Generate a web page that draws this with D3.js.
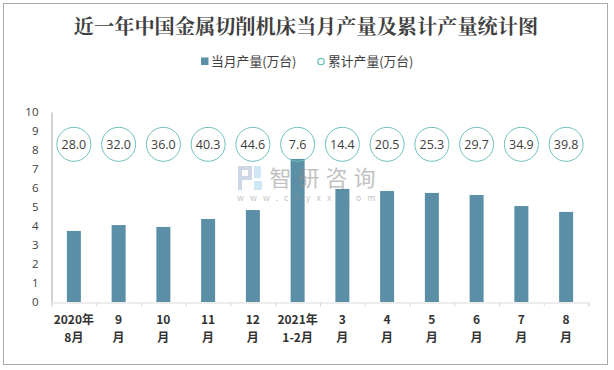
<!DOCTYPE html>
<html>
<head>
<meta charset="utf-8">
<script src="https://cdn.jsdelivr.net/npm/d3@7"></script>
<style>
html, body { margin: 0; padding: 0; background: #fff; }
svg { display: block; }
</style>
</head>
<body>
<div id="chart"></div>
<script>
var categories = ["2020年|8月", "9|月", "10|月", "11|月", "12|月", "2021年|1-2月", "3|月", "4|月", "5|月", "6|月", "7|月", "8|月"];
var monthly = [3.74, 4.05, 3.95, 4.37, 4.84, 7.53, 5.95, 5.84, 5.74, 5.63, 5.05, 4.74];
var cumulative = ["28.0", "32.0", "36.0", "40.3", "44.6", "7.6", "14.4", "20.5", "25.3", "29.7", "34.9", "39.8"];
var y_ticks = [0, 1, 2, 3, 4, 5, 6, 7, 8, 9, 10];
// bubbles sit on a flat helper series in the original
var bubble_level = categories.map(function() { return 8.3; });

var width = 614, height = 370;
var sans = "'Microsoft YaHei', 'Noto Sans CJK SC', sans-serif";
var latin = "'Open Sans', 'Noto Sans CJK SC', sans-serif";

var svg = d3.select("#chart").append("svg")
    .attr("width", width)
    .attr("height", height);

// Outer frame
svg.append("rect")
    .attr("x", 3.5).attr("y", 3.5)
    .attr("width", 604).attr("height", 361)
    .attr("fill", "#fff").attr("stroke", "#aaa");

// Dithered bar fill
var defs = svg.append("defs");
var pattern = defs.append("pattern")
    .attr("id", "bar_fill")
    .attr("patternUnits", "userSpaceOnUse")
    .attr("width", 2).attr("height", 2);
pattern.append("rect").attr("width", 2).attr("height", 2).attr("fill", "#5d92a9");
pattern.append("rect").attr("width", 1).attr("height", 1).attr("fill", "#578ca4");
pattern.append("rect").attr("x", 1).attr("y", 1).attr("width", 1).attr("height", 1).attr("fill", "#578ca4");

var x = d3.scaleBand().domain(d3.range(categories.length)).range([51.5, 588.5]);
var y = d3.scaleLinear().domain([0, 10]).range([302, 112]);

// Title
svg.append("text")
    .attr("x", 306).attr("y", 34)
    .attr("text-anchor", "middle")
    .attr("font-family", "'Noto Serif CJK SC', 'Noto Sans CJK SC', serif")
    .attr("font-weight", "bold")
    .attr("font-size", 20.2)
    .attr("fill", "#404040")
    .text("近一年中国金属切削机床当月产量及累计产量统计图");

// Legend
var legend = svg.append("g").attr("font-family", sans).attr("font-size", 12.8).attr("fill", "#404040");
legend.append("rect").attr("x", 201).attr("y", 57.5).attr("width", 7.5).attr("height", 7.5).attr("fill", "url(#bar_fill)");
legend.append("text").attr("x", 211).attr("y", 66).text("当月产量(万台)");
legend.append("circle").attr("cx", 321).attr("cy", 61.5).attr("r", 3.2).attr("fill", "#fff").attr("stroke", "#6fc0bb").attr("stroke-width", 1.3);
legend.append("text").attr("x", 328).attr("y", 66).text("累计产量(万台)");

// Bars
svg.selectAll(".bar")
    .data(monthly)
    .enter()
    .append("rect")
    .attr("class", "bar")
    .attr("x", function(d, i) { return x(i) + x.bandwidth() / 2 - 7; })
    .attr("y", function(d) { return y(d); })
    .attr("width", 14)
    .attr("height", function(d) { return y(0) - y(d); })
    .attr("fill", "url(#bar_fill)");

// Watermark, lies over the bars
var mark = svg.append("g").attr("font-family", sans).attr("fill", "#8f8f8f").attr("opacity", 0.55);
mark.append("text").attr("x", 269.5).attr("y", 186).attr("font-size", 22).attr("letter-spacing", 6).text("智研咨询");
mark.append("text").attr("x", 237).attr("y", 201).attr("font-size", 8.5).attr("letter-spacing", 6.2).text("www.chyxx.com");
mark.append("path").attr("d", "M238 166h14v14h-10v10h-4zM242 170v6h6v-6z").attr("fill", "#a5b8d3");
mark.append("path").attr("d", "M254 166h7v12h-7zM254 181h8v9h-8z").attr("fill", "#a9d2ee");

// Axes
var y_axis = d3.axisLeft(y).tickValues(y_ticks).tickSize(0).tickPadding(13);
var y_g = svg.append("g").attr("transform", "translate(51.5,0)").call(y_axis);
y_g.select(".domain").attr("stroke", "#a6a6a6");
y_g.selectAll("text")
    .attr("font-family", latin)
    .attr("font-size", 11.5)
    .attr("fill", "#404040");

var x_edge = d3.scaleLinear().domain([0, categories.length]).range(x.range());
var x_axis = d3.axisBottom(x_edge).ticks(categories.length).tickSize(4).tickFormat("");
var x_g = svg.append("g").attr("transform", "translate(0,302.5)").call(x_axis);
x_g.select(".domain").attr("stroke", "#d9d9d9");
x_g.selectAll("line").attr("stroke", "#d9d9d9");

// Category labels, two lines each
var labels = svg.selectAll(".cat")
    .data(categories)
    .enter()
    .append("text")
    .attr("class", "cat")
    .attr("text-anchor", "middle")
    .attr("font-family", sans)
    .attr("font-weight", "bold")
    .attr("font-size", 12)
    .attr("fill", "#333");
labels.append("tspan")
    .attr("x", function(d, i) { return x(i) + x.bandwidth() / 2; })
    .attr("y", 324)
    .text(function(d) { return d.split("|")[0]; });
labels.append("tspan")
    .attr("x", function(d, i) { return x(i) + x.bandwidth() / 2; })
    .attr("y", 342)
    .text(function(d) { return d.split("|")[1]; });

// Bubbles
var bubbles = svg.selectAll(".bubble")
    .data(cumulative)
    .enter()
    .append("g")
    .attr("class", "bubble")
    .attr("transform", function(d, i) {
        return "translate(" + (x(i) + x.bandwidth() / 2) + "," + y(bubble_level[i]) + ")";
    });
bubbles.append("circle")
    .attr("r", 17)
    .attr("fill", "none")
    .attr("stroke", "#6fc0bb")
    .attr("stroke-width", 1);
bubbles.append("text")
    .attr("text-anchor", "middle")
    .attr("dy", 4.5)
    .attr("font-family", latin)
    .attr("font-size", 12.5)
    .attr("fill", "#404040")
    .text(function(d) { return d; });
</script>
</body>
</html>
